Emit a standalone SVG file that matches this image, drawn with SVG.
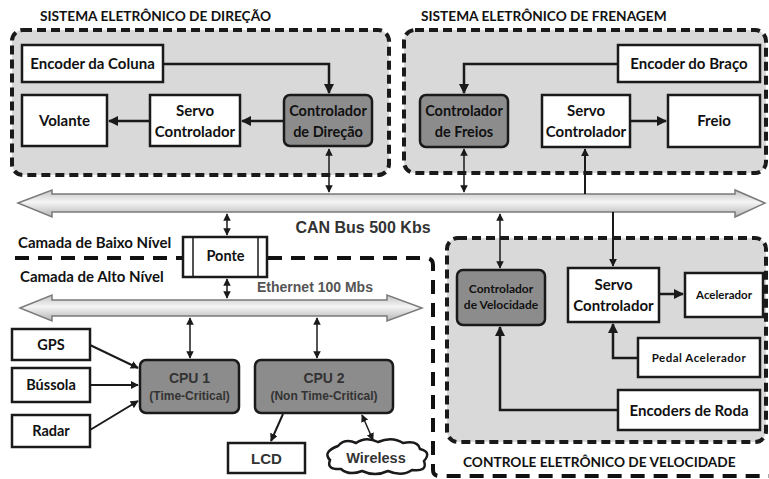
<svg xmlns="http://www.w3.org/2000/svg" width="769" height="479" viewBox="0 0 769 479">
  <style>
    .grp { fill: #d9d9d9; stroke: #1a1a1a; stroke-width: 4; stroke-dasharray: 9 5; }
    .box { fill: #ffffff; stroke: #1a1a1a; stroke-width: 2.5; }
    .dark { fill: #8c8c8c; stroke: #1a1a1a; stroke-width: 2.5; }
    .lbl { font-family: Lato, "Open Sans", sans-serif; font-weight: 700; fill: #111; text-anchor: middle; }
    .ttl { font-family: Lato, "Open Sans", sans-serif; font-weight: 700; fill: #111; font-size: 13.7px; }
    .gry { font-family: "Liberation Sans", Arial, sans-serif; font-weight: 700; fill: #333; text-anchor: middle; }
    .ln { fill: none; stroke: #1a1a1a; stroke-width: 2.5; }
    .thin { fill: none; stroke: #1a1a1a; stroke-width: 1.5; }
    .bus { fill: url(#busfill); stroke: #7a7a7a; stroke-width: 1.5; }
    .sep { fill: none; stroke: #111; stroke-width: 4; stroke-dasharray: 14 9; }
  </style>
  <defs>
    <linearGradient id="busfill" x1="0" y1="0" x2="0" y2="1">
      <stop offset="0" stop-color="#c4c4c4"/>
      <stop offset="0.45" stop-color="#f5f5f5"/>
      <stop offset="1" stop-color="#b4b4b4"/>
    </linearGradient>
    <marker id="ah" viewBox="0 0 10 10" refX="9" refY="5" markerWidth="4" markerHeight="4" orient="auto-start-reverse">
      <path d="M0,0 L10,5 L0,10 Z" fill="#1a1a1a"/>
    </marker>
    <marker id="ahs" viewBox="0 0 10 10" refX="9" refY="5" markerWidth="5" markerHeight="5" orient="auto-start-reverse">
      <path d="M0,0 L10,5 L0,10 Z" fill="#1a1a1a"/>
    </marker>
  </defs>

  <rect width="769" height="479" fill="#ffffff"/>

  <!-- group backgrounds -->
  <g id="grp-direcao">
    <rect class="grp" x="12" y="30" width="377" height="145" rx="11"/>
    <text class="ttl" x="40" y="21">SISTEMA ELETRÔNICO DE DIREÇÃO</text>
  </g>
  <g id="grp-frenagem">
    <rect class="grp" x="404" y="30" width="362" height="143" rx="11"/>
    <text class="ttl" x="421" y="21">SISTEMA ELETRÔNICO DE FRENAGEM</text>
  </g>
  <g id="grp-velocidade">
    <rect class="grp" x="447" y="238" width="319" height="204" rx="11"/>
    <text class="ttl" x="463" y="467">CONTROLE ELETRÔNICO DE VELOCIDADE</text>
  </g>

  <!-- layer separator -->
  <g id="layers">
    <path class="sep" d="M15,258 H183 M268,258 H426 Q433,258 433,265 V470 Q433,476 440,476 H769"/>
    <text class="ttl" x="18" y="248" style="font-size:15px">Camada de Baixo Nível</text>
    <text class="ttl" x="20" y="282" style="font-size:15px">Camada de Alto Nível</text>
  </g>

  <!-- buses -->
  <g id="can-bus">
    <path class="bus" d="M18,203 L52,190 L52,194 L735,194 L735,190 L765,203 L735,217 L735,212 L52,212 L52,217 Z"/>
    <text class="gry" x="363" y="233" font-size="16" fill="#3a3a3a">CAN Bus 500 Kbs</text>
  </g>
  <g id="ethernet-bus">
    <path class="bus" d="M20,308 L52,295 L52,300 L387,300 L387,295 L422,308 L387,321 L387,316 L52,316 L52,321 Z"/>
    <text class="gry" x="315" y="292" font-size="14" style="fill:#555">Ethernet 100 Mbs</text>
  </g>

  <!-- connectors -->
  <g id="connectors">
    <path class="ln" d="M163,64 H329 V93" marker-end="url(#ah)"/>
    <path class="ln" d="M284,121 H242" marker-end="url(#ah)"/>
    <path class="ln" d="M150,121 H109" marker-end="url(#ah)"/>
    <path class="thin" d="M329,149 V192" marker-start="url(#ahs)" marker-end="url(#ahs)"/>

    <path class="ln" d="M618,64 H464 V93" marker-end="url(#ah)"/>
    <path class="ln" d="M630,121 H666" marker-end="url(#ah)"/>
    <path class="thin" d="M464,149 V192" marker-start="url(#ahs)" marker-end="url(#ahs)"/>
    <path class="ln" d="M585,194 V149" marker-end="url(#ah)" style="stroke-width:2"/>

    <path class="thin" d="M500,214 V268" marker-start="url(#ahs)" marker-end="url(#ahs)"/>
    <path class="ln" d="M613,212 V266" marker-end="url(#ah)" style="stroke-width:2"/>
    <path class="ln" d="M659,294 H683" marker-end="url(#ah)"/>
    <path class="ln" d="M638,358 H613 V324" marker-end="url(#ah)"/>
    <path class="ln" d="M618,410 H500 V327" marker-end="url(#ah)"/>

    <path class="thin" d="M227,214 V235" marker-start="url(#ahs)" marker-end="url(#ahs)"/>
    <path class="thin" d="M227,279 V298" marker-start="url(#ahs)" marker-end="url(#ahs)"/>

    <path class="thin" d="M190,318 V358" marker-start="url(#ahs)" marker-end="url(#ahs)"/>
    <path class="thin" d="M317,318 V358" marker-start="url(#ahs)" marker-end="url(#ahs)"/>

    <path class="ln" d="M90,345 L138,368" marker-end="url(#ah)" style="stroke-width:2"/>
    <path class="ln" d="M90,385 H138" marker-end="url(#ah)" style="stroke-width:2"/>
    <path class="ln" d="M90,430 L138,401" marker-end="url(#ah)" style="stroke-width:2"/>

    <path class="ln" d="M283,414 L271,441" marker-end="url(#ah)" style="stroke-width:2"/>
    <path class="thin" d="M362,415 L373,440" marker-start="url(#ahs)" marker-end="url(#ahs)"/>
  </g>

  <!-- steering nodes -->
  <g id="encoder-coluna">
    <rect class="box" x="22" y="45" width="141" height="37"/>
    <text class="lbl" x="92.5" y="69" font-size="15">Encoder da Coluna</text>
  </g>
  <g id="volante">
    <rect class="box" x="22" y="95" width="85" height="51"/>
    <text class="lbl" x="64.5" y="126" font-size="15">Volante</text>
  </g>
  <g id="servo-direcao">
    <rect class="box" x="150" y="95" width="90" height="51"/>
    <text class="lbl" x="195" y="116" font-size="15">Servo</text>
    <text class="lbl" x="195" y="137" font-size="15">Controlador</text>
  </g>
  <g id="controlador-direcao">
    <rect class="dark" x="284" y="95" width="88" height="51" rx="6"/>
    <text class="lbl" x="328" y="116" font-size="14.5">Controlador</text>
    <text class="lbl" x="328" y="137" font-size="14.5">de Direção</text>
  </g>

  <!-- braking nodes -->
  <g id="encoder-braco">
    <rect class="box" x="618" y="45" width="142" height="37"/>
    <text class="lbl" x="689" y="69" font-size="15">Encoder do Braço</text>
  </g>
  <g id="controlador-freios">
    <rect class="dark" x="420" y="95" width="88" height="52" rx="6"/>
    <text class="lbl" x="464" y="116" font-size="14.5">Controlador</text>
    <text class="lbl" x="464" y="137" font-size="14.5">de Freios</text>
  </g>
  <g id="servo-freio">
    <rect class="box" x="542" y="95" width="88" height="52"/>
    <text class="lbl" x="586" y="116" font-size="15">Servo</text>
    <text class="lbl" x="586" y="137" font-size="15">Controlador</text>
  </g>
  <g id="freio">
    <rect class="box" x="668" y="95" width="92" height="52"/>
    <text class="lbl" x="714" y="126" font-size="15">Freio</text>
  </g>

  <!-- speed control nodes -->
  <g id="controlador-velocidade">
    <rect class="dark" x="457" y="270" width="88" height="55" rx="6"/>
    <text class="lbl" x="501" y="293" font-size="12">Controlador</text>
    <text class="lbl" x="501" y="309" font-size="12">de Velocidade</text>
  </g>
  <g id="servo-velocidade">
    <rect class="box" x="568" y="268" width="91" height="54"/>
    <text class="lbl" x="613.5" y="290" font-size="15">Servo</text>
    <text class="lbl" x="613.5" y="311" font-size="15">Controlador</text>
  </g>
  <g id="acelerador">
    <rect class="box" x="685" y="273" width="78" height="44"/>
    <text class="lbl" x="724" y="299" font-size="11.5">Acelerador</text>
  </g>
  <g id="pedal-acelerador">
    <rect class="box" x="638" y="338" width="122" height="39"/>
    <text class="lbl" x="699" y="362" font-size="11.5" style="letter-spacing:0.5px">Pedal Acelerador</text>
  </g>
  <g id="encoders-roda">
    <rect class="box" x="618" y="390" width="142" height="40"/>
    <text class="lbl" x="689" y="416" font-size="15">Encoders de Roda</text>
  </g>

  <!-- bridge -->
  <g id="ponte">
    <rect class="box" x="183" y="237" width="84" height="40"/>
    <path class="thin" d="M193,237 V277 M258,237 V277"/>
    <text class="lbl" x="225.5" y="261" font-size="14.5">Ponte</text>
  </g>

  <!-- high level nodes -->
  <g id="gps">
    <rect class="box" x="12" y="329" width="78" height="31"/>
    <text class="lbl" x="51" y="350" font-size="14.5">GPS</text>
  </g>
  <g id="bussola">
    <rect class="box" x="12" y="368" width="78" height="34"/>
    <text class="lbl" x="51" y="390" font-size="14.5">Bússola</text>
  </g>
  <g id="radar">
    <rect class="box" x="12" y="415" width="78" height="32"/>
    <text class="lbl" x="51" y="436" font-size="14.5">Radar</text>
  </g>
  <g id="cpu1">
    <rect class="dark" x="140" y="360" width="99" height="53" rx="6"/>
    <text class="gry" x="189.5" y="383" font-size="14">CPU 1</text>
    <text class="gry" x="189.5" y="400" font-size="12">(Time-Critical)</text>
  </g>
  <g id="cpu2">
    <rect class="dark" x="255" y="360" width="138" height="53" rx="6"/>
    <text class="gry" x="324" y="383" font-size="14">CPU 2</text>
    <text class="gry" x="324" y="400" font-size="12">(Non Time-Critical)</text>
  </g>
  <g id="lcd">
    <rect class="box" x="228" y="443" width="77" height="30"/>
    <text class="gry" x="266.5" y="464" font-size="15">LCD</text>
  </g>
  <g id="wireless">
    <path class="box" d="M338,446 Q345,438 356,443 Q366,436 378,442 Q392,436 403,443 Q418,440 420,449 Q432,452 424,461 Q428,472 412,470 Q402,477 388,471 Q375,477 362,471 Q349,476 341,469 Q326,470 330,460 Q322,452 338,446 Z"/>
    <text class="gry" x="376" y="463" font-size="14.5">Wireless</text>
  </g>
</svg>
